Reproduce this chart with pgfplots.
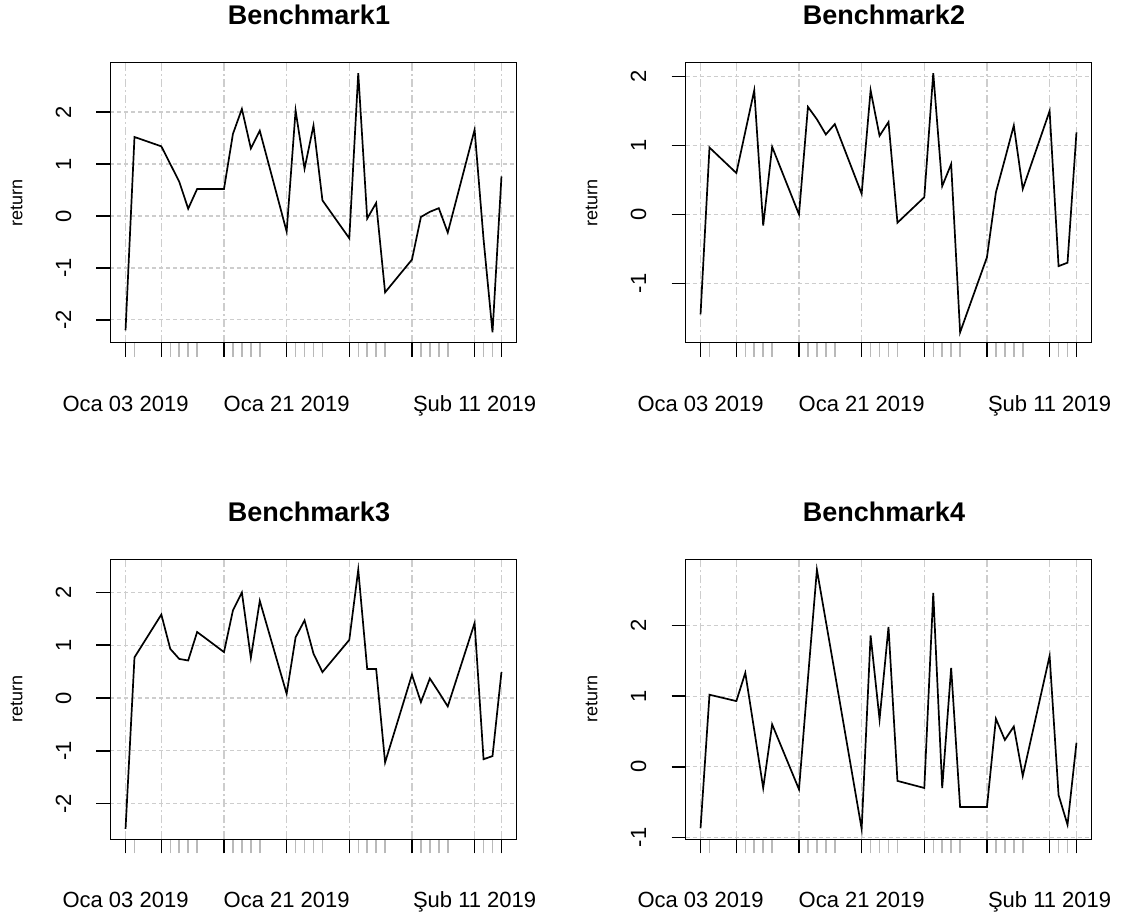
\documentclass[border=0pt]{standalone}
\usepackage{fontspec}
\setmainfont{Liberation Sans}
\usepackage{pgfplots}
\usepackage{pgfplotstable}
\pgfplotsset{compat=1.18}

\definecolor{gridgray}{RGB}{205,205,205}
\definecolor{minorgray}{RGB}{185,185,185}

% daily returns; day 0 = 3 Jan 2019 (calendar days, weekends skipped)
\pgfplotstableread{
day    b1     b2     b3     b4
0     -2.20  -1.45  -2.48  -0.87
1      1.52   0.97   0.77   1.02
4      1.34   0.60   1.58   0.93
5      1.00   1.20   0.93   1.33
6      0.66   1.80   0.74   0.52
7      0.14  -0.16   0.71  -0.30
8      0.52   0.98   1.25   0.60
11     0.52   0.00   0.87  -0.32
12     1.58   1.56   1.66   1.25
13     2.06   1.38   2.00   2.79
14     1.30   1.16   0.76   2.06
15     1.64   1.31   1.84   1.33
18    -0.30   0.30   0.08  -0.88
19     2.03   1.80   1.15   1.86
20     0.91   1.14   1.47   0.67
21     1.74   1.34   0.84   1.98
22     0.30  -0.12   0.49  -0.20
25    -0.43   0.25   1.10  -0.30
26     2.75   2.05   2.43   2.46
27    -0.05   0.41   0.55  -0.30
28     0.25   0.73   0.55   1.40
29    -1.47  -1.71  -1.22  -0.57
32    -0.84  -0.62   0.44  -0.57
33    -0.02   0.32  -0.08   0.68
34     0.08   0.80   0.37   0.38
35     0.15   1.29   0.11   0.57
36    -0.32   0.37  -0.16  -0.13
39     1.66   1.50   1.42   1.57
40    -0.45  -0.75  -1.16  -0.40
41    -2.24  -0.70  -1.10  -0.82
42     0.76   1.19   0.49   0.34
}\returns

\pgfplotsset{
  retpanel/.style={
    scale only axis, width=203pt, height=140pt,
    xmin=-1.68, xmax=43.68,
    enlargelimits=false,
    axis line style={line width=0.75pt},
    tick align=outside, tick pos=left,
    major tick length=7pt, minor tick length=7pt,
    every major tick/.append style={line width=0.75pt, black},
    every minor tick/.append style={line width=0.75pt, minorgray},
    xtick={0,4,11,18,25,32,39,42},
    xticklabels={Oca 03 2019,,,Oca 21 2019,,,Şub 11 2019,},
    minor xtick={1,5,6,7,8,12,13,14,15,19,20,21,22,26,27,28,29,33,34,35,36,40,41},
    xmajorgrids, ymajorgrids,
    major x grid style={gridgray, line width=0.6pt, dash pattern=on 4pt off 1.5pt on 1pt off 1.5pt},
    major y grid style={gridgray, line width=0.6pt, dash pattern=on 2pt off 1.5pt},
    tick label style={font=\fontsize{11}{13}\selectfont},
    xticklabel style={anchor=base, yshift=-27.25pt},
    yticklabel style={xshift=-16.5pt, rotate=90, anchor=center},
    every axis y label/.style={at={(axis description cs:-0.231,0.5)}, rotate=90, anchor=center, font=\fontsize{9}{11}\selectfont},
    ylabel=return,
    every axis title/.style={at={(axis description cs:0.5,1)}, anchor=center, xshift=-2.25pt, yshift=23.75pt, font=\bfseries\fontsize{13.5}{15}\selectfont},
  },
  retline/.style={black, line width=0.85pt, mark=none},
}

\begin{document}
\begin{tikzpicture}
\useasboundingbox (0,0) rectangle (562pt,-459pt);

\begin{axis}[retpanel, at={(55.25pt,-31.35pt)}, anchor=north west,
  title=Benchmark1, ymin=-2.4396, ymax=2.9496,
  ytick={-2,-1,0,1,2}, yticklabels={-2,-1,0,1,2}]
  \addplot[retline] table[x=day, y=b1] {\returns};
\end{axis}

\begin{axis}[retpanel, at={(342.75pt,-31.35pt)}, anchor=north west,
  title=Benchmark2, ymin=-1.8604, ymax=2.2004,
  ytick={-1,0,1,2}, yticklabels={-1,0,1,2}]
  \addplot[retline] table[x=day, y=b2] {\returns};
\end{axis}

\begin{axis}[retpanel, at={(55.25pt,-279.65pt)}, anchor=north west,
  title=Benchmark3, ymin=-2.6764, ymax=2.6264,
  ytick={-2,-1,0,1,2}, yticklabels={-2,-1,0,1,2}]
  \addplot[retline] table[x=day, y=b3] {\returns};
\end{axis}

\begin{axis}[retpanel, at={(342.75pt,-279.65pt)}, anchor=north west,
  title=Benchmark4, ymin=-1.0268, ymax=2.9368,
  ytick={-1,0,1,2}, yticklabels={-1,0,1,2}]
  \addplot[retline] table[x=day, y=b4] {\returns};
\end{axis}
\end{tikzpicture}
\end{document}
